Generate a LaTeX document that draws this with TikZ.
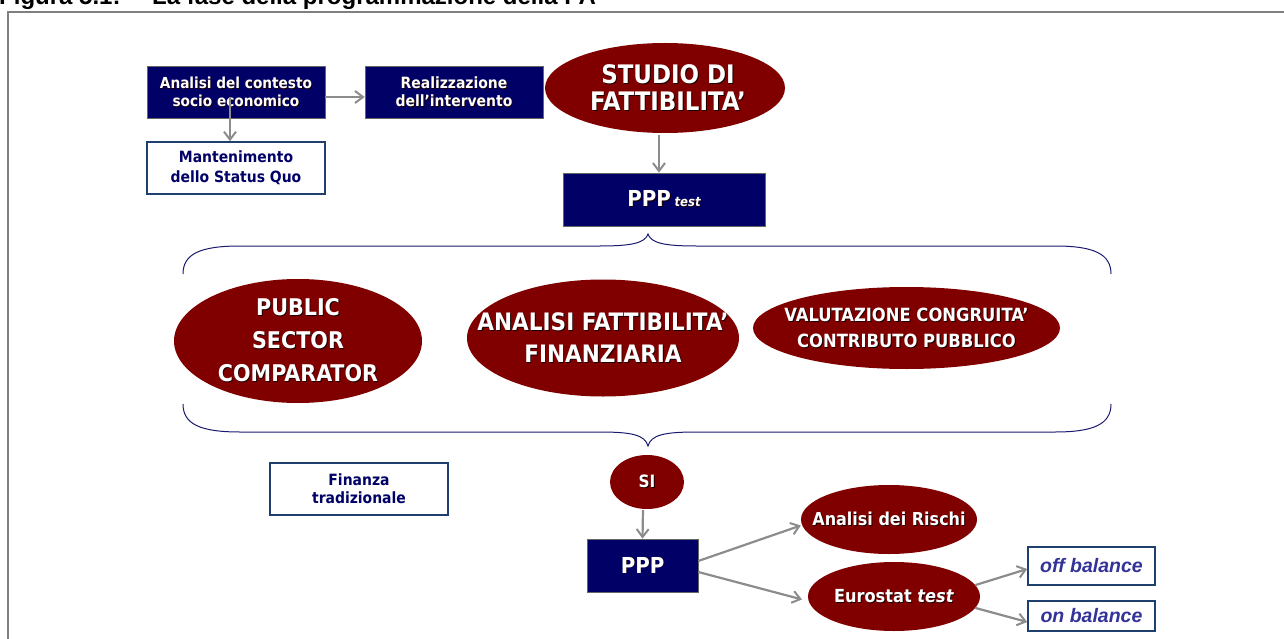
\documentclass[tikz,border=0pt]{standalone}
\usepackage{fontspec}
\setmainfont{DejaVu Sans Condensed}
\newfontfamily\arialf{Liberation Sans}
\usetikzlibrary{shapes.geometric,arrows.meta}
\definecolor{navybox}{HTML}{000066}
\definecolor{darkred}{HTML}{800000}
\definecolor{arrgray}{HTML}{8C8C8C}
\definecolor{framegray}{HTML}{808080}
\definecolor{bordblue}{HTML}{1F3F6F}
\definecolor{bracec}{HTML}{1A1A6E}
\definecolor{balblue}{HTML}{333399}
\definecolor{shadowc}{HTML}{1A0000}
\newcommand\shd[1]{\leavevmode\rlap{\kern0.9pt\raisebox{-0.9pt}{\color{shadowc}#1}}#1}
\tikzset{
  navyrect/.style={rectangle, fill=navybox, draw=black!60, line width=0.6pt, text=white, font=\bfseries, align=center, inner sep=0pt},
  whiterect/.style={rectangle, fill=white, draw=bordblue, line width=1.4pt, text=navybox, font=\bfseries, align=center, inner sep=0pt},
  redell/.style={ellipse, fill=darkred, draw=none, inner sep=0pt},
  redtext/.style={text=white, align=center, inner sep=0pt},
  arr/.style={draw=arrgray, line width=2.2pt, -{Straight Barb[length=8pt,width=12pt,line width=2pt]}},
  bracepath/.style={draw=bracec, line width=1pt},
}
\begin{document}
\begin{tikzpicture}[x=1pt,y=-1pt]
\useasboundingbox (0,0) rectangle (1284,639);
% title (cut at top) and frame
\node[anchor=base west, inner sep=0pt, font=\arialf\bfseries\fontsize{24}{26}\selectfont] (fig) at (-1,5) {Figura 5.1:};
\node[anchor=base west, inner sep=0pt, font=\arialf\bfseries\fontsize{24}{26}\selectfont] (title) at (152,5) {La fase della programmazione della PA};
\draw[framegray, line width=2pt] (8,640) -- (8,12) -- (1285,12);

% top row
\node[navyrect, minimum width=178pt, minimum height=52pt, font=\bfseries\fontsize{15.2}{18}\selectfont] (ctx) at (236,92) {\shd{Analisi del contesto}\\\shd{socio economico}};
\node[navyrect, minimum width=178pt, minimum height=52pt, font=\bfseries\fontsize{15.5}{18}\selectfont] (real) at (454,92) {\shd{Realizzazione}\\\shd{dell’intervento}};
\node[whiterect, minimum width=178pt, minimum height=52pt, font=\bfseries\fontsize{15.5}{20}\selectfont] (mant) at (236,168) {Mantenimento\\dello Status Quo};
\node[redell, minimum width=240pt, minimum height=90pt,
  label={[redtext, xshift=3pt, font=\bfseries\fontsize{25.5}{27}\selectfont]center:{\shd{STUDIO DI}\\\shd{FATTIBILITA’}}}] (studio) at (665,88) {};
\node[navyrect, minimum width=202pt, minimum height=53pt, font=\bfseries\fontsize{22}{26}\selectfont] (ppptest) at (664,199.5) {\shd{PPP}\,{\fontsize{13}{14}\selectfont\itshape\shd{test}}};

% braces
\draw[bracepath] (183,274) .. controls (183,254) and (200,246) .. (240,246) -- (600,246) .. controls (632,246) and (645,243) .. (648,234) .. controls (651,243) and (664,246) .. (696,246) -- (1055,246) .. controls (1094,246) and (1111,254) .. (1111,274);
\draw[bracepath] (183,404) .. controls (183,424) and (200,432) .. (240,432) -- (600,432) .. controls (632,432) and (645,435) .. (648,446) .. controls (651,435) and (664,432) .. (696,432) -- (1055,432) .. controls (1094,432) and (1111,424) .. (1111,404);

% middle ellipses
\node[redell, minimum width=248pt, minimum height=124pt,
  label={[redtext, font=\bfseries\fontsize{23}{33}\selectfont]center:{\shd{PUBLIC}\\\shd{SECTOR}\\\shd{COMPARATOR}}}] (psc) at (298,341) {};
\node[redell, minimum width=272pt, minimum height=117pt,
  label={[redtext, font=\bfseries\fontsize{24}{32}\selectfont]center:{\shd{ANALISI FATTIBILITA’}\\\shd{FINANZIARIA}}}] (aff) at (603,338) {};
\node[redell, minimum width=307pt, minimum height=82pt,
  label={[redtext, font=\bfseries\fontsize{18.2}{26}\selectfont]center:{\shd{VALUTAZIONE CONGRUITA’}\\\shd{CONTRIBUTO PUBBLICO}}}] (vcc) at (906.5,328) {};

% bottom part
\node[whiterect, minimum width=178pt, minimum height=52pt, font=\bfseries\fontsize{15.5}{18}\selectfont] (fin) at (359,489) {Finanza\\tradizionale};
\node[redell, minimum width=74pt, minimum height=54pt,
  label={[redtext, font=\bfseries\fontsize{17}{18}\selectfont]center:{\shd{SI}}}] (si) at (647,482) {};
\node[navyrect, minimum width=111pt, minimum height=53pt, font=\bfseries\fontsize{22}{26}\selectfont] (ppp) at (642.5,565.5) {\shd{PPP}};
\node[redell, minimum width=176pt, minimum height=69pt,
  label={[redtext, font=\bfseries\fontsize{17.8}{20}\selectfont]center:{\shd{Analisi dei Rischi}}}] (risk) at (889,519.5) {};
\node[redell, minimum width=172pt, minimum height=69pt,
  label={[redtext, font=\bfseries\fontsize{18}{20}\selectfont]center:{\shd{Eurostat \textit{test}}}}] (euro) at (894,596.5) {};
\node[whiterect, draw=bordblue, line width=1.6pt, text=balblue, minimum width=127pt, minimum height=38pt, font=\arialf\bfseries\itshape\fontsize{19.5}{21}\selectfont] (off) at (1091.5,566) {off balance};
\node[whiterect, draw=bordblue, line width=1.6pt, text=balblue, minimum width=127pt, minimum height=30pt, font=\arialf\bfseries\itshape\fontsize{19.5}{21}\selectfont] (on) at (1091.5,616) {on balance};

% connectors
\draw[arr] ([yshift=-5pt]ctx.east) -- ([yshift=-5pt]real.west);
\draw[arr] ([shift={(-6pt,-5pt)}]ctx.center) -- ([xshift=-6pt]mant.north);
\draw[arr, shorten <=2pt] ([xshift=-6pt]studio.south) -- ([xshift=-5pt]ppptest.north);
\draw[arr, shorten <=1pt] ([xshift=-4pt]si.south) -- (ppp.north);
\draw[arr] ([yshift=4.5pt]ppp.east) -- ([yshift=-6pt]risk.west);
\draw[arr, shorten >=6pt] ([yshift=-6.5pt]ppp.east) -- ([yshift=-4.5pt]euro.west);
\draw[arr] (euro.8) -- ([yshift=-3pt]off.west);
\draw[arr] (euro.-8) -- ([yshift=-6pt]on.west);
\end{tikzpicture}
\end{document}
